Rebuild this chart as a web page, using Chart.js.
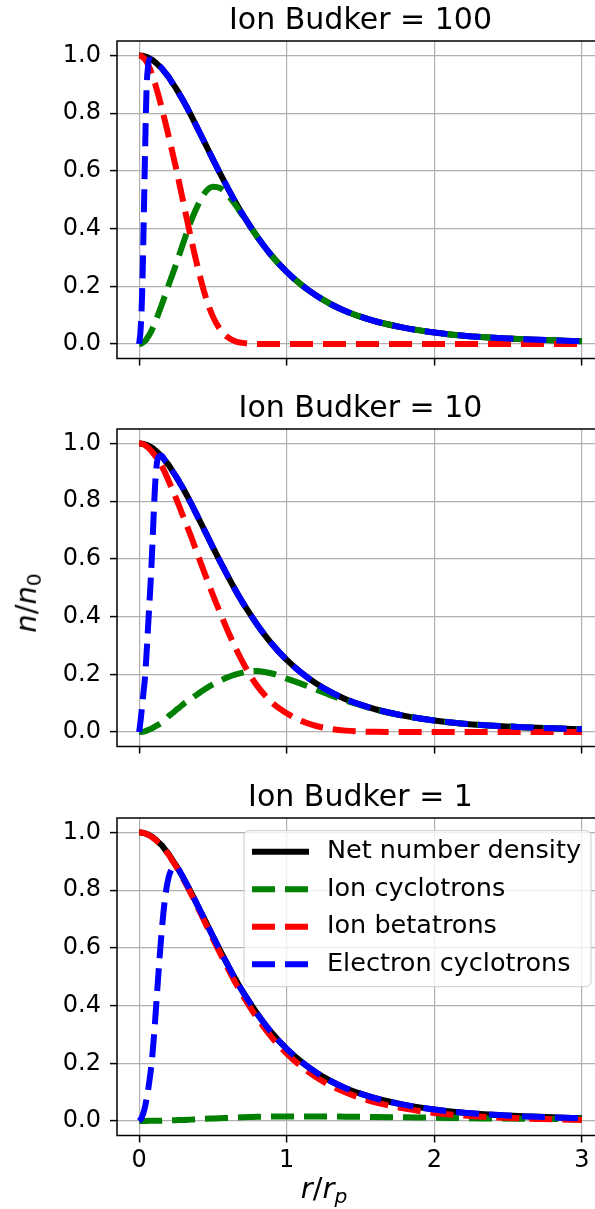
<!DOCTYPE html>
<html lang="en">
<head>
  <meta charset="UTF-8" />
  <title>Ion Budker density profiles</title>
  <script src="https://cdn.jsdelivr.net/npm/chart.js"></script>
  <style>
    * {
      margin: 0;
      padding: 0;
      box-sizing: border-box;
    }

    html, body {
      width: 595px;
      height: 1209px;
      overflow: hidden;
      background: #fff;
      font-family: 'DejaVu Sans', sans-serif;
    }

    .panel {
      position: absolute;
      left: 0;
    }

    #p1 { top: 0; }
    #p2 { top: 388px; }
    #p3 { top: 777px; }

    .axlabel {
      position: absolute;
      font-size: 29px;
      color: #000;
      white-space: nowrap;
      line-height: 1;
    }

    .axlabel sub {
      font-size: 0.7em;
      vertical-align: -0.25em;
    }

    #xlab {
      left: 324px;
      top: 1190px;
      transform: translate(-50%, -50%);
    }

    #ylab {
      left: 28px;
      top: 603px;
      transform: translate(-50%, -50%) rotate(-90deg);
    }
  </style>
</head>

<body>
  <canvas id="p1" class="panel" width="620" height="388"></canvas>
  <canvas id="p2" class="panel" width="620" height="389"></canvas>
  <canvas id="p3" class="panel" width="620" height="432"></canvas>
  <div id="ylab" class="axlabel"><i>n</i>/<i>n</i><sub>0</sub></div>
  <div id="xlab" class="axlabel"><i>r</i>/<i>r</i><sub><i>p</i></sub></div>

  <script>
    // radius r/r_p
    const r = [0, 0.01, 0.02, 0.03, 0.04, 0.05, 0.06, 0.07, 0.08, 0.09, 0.1, 0.11, 0.125, 0.15, 0.175,
      0.2, 0.225, 0.25, 0.275, 0.3, 0.35, 0.4, 0.45, 0.5, 0.55, 0.6, 0.65, 0.7, 0.75, 0.8,
      0.9, 1.0, 1.1, 1.2, 1.3, 1.4, 1.5, 1.6, 1.8, 2.0, 2.2, 2.4, 2.6, 2.8, 3.0];

    // net number density (same in all three panels)
    const netDensity = [1.000, 1.000, 0.999, 0.998, 0.997, 0.995, 0.993, 0.990, 0.987, 0.984, 0.980, 0.976, 0.969, 0.957, 0.941,
      0.925, 0.905, 0.886, 0.864, 0.842, 0.794, 0.743, 0.692, 0.640, 0.590, 0.541, 0.494, 0.450, 0.410, 0.372,
      0.305, 0.250, 0.205, 0.168, 0.138, 0.114, 0.095, 0.079, 0.056, 0.040, 0.029, 0.022, 0.017, 0.013, 0.010];

    // Ion Budker = 100
    const cyc100 = [0, 0.001, 0.003, 0.007, 0.011, 0.017, 0.025, 0.033, 0.042, 0.053, 0.065, 0.077, 0.097, 0.132, 0.168,
      0.205, 0.240, 0.276, 0.314, 0.352, 0.424, 0.483, 0.527, 0.545, 0.540, 0.517, 0.484, 0.446, 0.409, 0.372,
      0.305, 0.250, 0.205, 0.168, 0.138, 0.114, 0.095, 0.079, 0.056, 0.040, 0.029, 0.022, 0.017, 0.013, 0.010];
    const beta100 = [1.000, 0.999, 0.996, 0.991, 0.986, 0.978, 0.968, 0.957, 0.945, 0.931, 0.915, 0.899, 0.872, 0.825, 0.773,
      0.720, 0.665, 0.610, 0.550, 0.490, 0.370, 0.260, 0.165, 0.095, 0.050, 0.024, 0.010, 0.004, 0.001, 0,
      0, 0, 0, 0, 0, 0, 0, 0, 0, 0, 0, 0, 0, 0, 0];
    const elec100 = [0, 0.05, 0.17, 0.40, 0.66, 0.88, 0.96, 0.985, 0.985, 0.983, 0.980, 0.976, 0.969, 0.957, 0.941,
      0.925, 0.905, 0.886, 0.864, 0.842, 0.794, 0.743, 0.692, 0.640, 0.590, 0.541, 0.494, 0.450, 0.410, 0.372,
      0.305, 0.250, 0.205, 0.168, 0.138, 0.114, 0.095, 0.079, 0.056, 0.040, 0.029, 0.022, 0.017, 0.013, 0.010];

    // Ion Budker = 10
    const cyc10 = [0, 0, 0.001, 0.001, 0.003, 0.005, 0.007, 0.009, 0.011, 0.014, 0.017, 0.020, 0.024, 0.032, 0.042,
      0.055, 0.065, 0.076, 0.086, 0.097, 0.114, 0.133, 0.150, 0.165, 0.178, 0.190, 0.199, 0.206, 0.211, 0.212,
      0.203, 0.185, 0.167, 0.147, 0.127, 0.109, 0.093, 0.078, 0.056, 0.040, 0.029, 0.022, 0.017, 0.013, 0.010];
    const beta10 = [1.000, 1.000, 0.998, 0.997, 0.994, 0.990, 0.986, 0.981, 0.976, 0.970, 0.963, 0.956, 0.945, 0.925, 0.899,
      0.870, 0.840, 0.810, 0.778, 0.745, 0.680, 0.610, 0.542, 0.475, 0.412, 0.351, 0.295, 0.244, 0.199, 0.160,
      0.102, 0.065, 0.038, 0.021, 0.011, 0.005, 0.002, 0.001, 0, 0, 0, 0, 0, 0, 0];
    const elec10 = [0, 0.04, 0.09, 0.14, 0.19, 0.27, 0.36, 0.45, 0.54, 0.65, 0.77, 0.87, 0.945, 0.957, 0.941,
      0.925, 0.905, 0.886, 0.864, 0.842, 0.794, 0.743, 0.692, 0.640, 0.590, 0.541, 0.494, 0.450, 0.410, 0.372,
      0.305, 0.250, 0.205, 0.168, 0.138, 0.114, 0.095, 0.079, 0.056, 0.040, 0.029, 0.022, 0.017, 0.013, 0.010];

    // Ion Budker = 1
    const cyc1 = [0, 0, 0, 0, 0, 0, 0.001, 0.001, 0.001, 0.001, 0.001, 0.001, 0.001, 0.001, 0.002,
      0.002, 0.003, 0.003, 0.004, 0.004, 0.005, 0.006, 0.008, 0.009, 0.010, 0.011, 0.012, 0.013, 0.014, 0.015,
      0.016, 0.016, 0.016, 0.016, 0.016, 0.015, 0.015, 0.014, 0.013, 0.012, 0.010, 0.009, 0.008, 0.007, 0.006];
    const beta1 = [1.000, 1.000, 0.999, 0.998, 0.997, 0.995, 0.992, 0.989, 0.986, 0.983, 0.979, 0.975, 0.968, 0.956, 0.939,
      0.923, 0.902, 0.883, 0.860, 0.838, 0.789, 0.737, 0.684, 0.631, 0.580, 0.530, 0.482, 0.437, 0.396, 0.357,
      0.289, 0.234, 0.189, 0.152, 0.122, 0.099, 0.080, 0.065, 0.043, 0.028, 0.019, 0.013, 0.009, 0.006, 0.004];
    const elec1 = [0, 0.005, 0.015, 0.030, 0.050, 0.075, 0.105, 0.140, 0.180, 0.230, 0.290, 0.360, 0.470, 0.640, 0.770,
      0.845, 0.876, 0.883, 0.866, 0.842, 0.794, 0.743, 0.692, 0.640, 0.590, 0.541, 0.494, 0.450, 0.410, 0.372,
      0.305, 0.250, 0.205, 0.168, 0.138, 0.114, 0.095, 0.079, 0.056, 0.040, 0.029, 0.022, 0.017, 0.013, 0.010];

    const xTicks = [0, 1, 2, 3];
    const yTicks = [0, 0.2, 0.4, 0.6, 0.8, 1.0];
    const seriesNames = ['Net number density', 'Ion cyclotrons', 'Ion betatrons', 'Electron cyclotrons'];
    const seriesColors = ['#000000', '#008000', '#ff0000', '#0000ff'];

    const FONT = "'DejaVu Sans', sans-serif";
    const AREA_H = 317.5;
    const AREA_TOP = 41;

    function points(vals) {
      return r.map((x, i) => ({ x: x, y: vals[i] }));
    }

    // title centred over the plot area
    const panelTitle = {
      id: 'panelTitle',
      afterDraw(chart, args, opts) {
        const { ctx, chartArea } = chart;
        ctx.save();
        ctx.font = '30px ' + FONT;
        ctx.fillStyle = '#000';
        ctx.textAlign = 'center';
        ctx.textBaseline = 'alphabetic';
        ctx.fillText(opts.text, (chartArea.left + chartArea.right) / 2, chartArea.top - 12.5);
        ctx.restore();
      }
    };

    // spines on all four sides
    const frame = {
      id: 'frame',
      afterDatasetsDraw(chart) {
        const { ctx, chartArea } = chart;
        ctx.save();
        ctx.strokeStyle = '#000';
        ctx.lineWidth = 1.5;
        ctx.strokeRect(chartArea.left, chartArea.top, chartArea.right - chartArea.left, chartArea.bottom - chartArea.top);
        ctx.restore();
      }
    };

    // matplotlib style legend inside the axes
    const insetLegend = {
      id: 'insetLegend',
      afterDraw(chart, args, opts) {
        if (!opts.show) return;
        const ctx = chart.ctx;
        const left = 244, width = 347, height = 156;
        const top = chart.chartArea.top + 12.7;
        ctx.save();
        ctx.beginPath();
        ctx.roundRect(left, top, width, height, 5);
        ctx.fillStyle = 'rgba(255,255,255,0.8)';
        ctx.fill();
        ctx.strokeStyle = '#cccccc';
        ctx.lineWidth = 1;
        ctx.stroke();
        chart.data.datasets.forEach((ds, i) => {
          const y = top + 21 + i * 37.5;
          ctx.beginPath();
          ctx.setLineDash(ds.borderDash || []);
          ctx.lineWidth = ds.borderWidth;
          ctx.strokeStyle = ds.borderColor;
          ctx.moveTo(252, y);
          ctx.lineTo(309, y);
          ctx.stroke();
          ctx.setLineDash([]);
          ctx.font = '25.5px ' + FONT;
          ctx.fillStyle = '#000';
          ctx.textAlign = 'left';
          ctx.textBaseline = 'middle';
          ctx.fillText(ds.label, 327, y);
        });
        ctx.restore();
      }
    };

    function makePanel(id, title, cyc, beta, elec, showX, showLegend) {
      const canvas = document.getElementById(id);
      const xAxisH = canvas.height - AREA_TOP - AREA_H;
      const series = [netDensity, cyc, beta, elec];
      const datasets = series.map((vals, i) => ({
        label: seriesNames[i],
        data: points(vals),
        borderColor: seriesColors[i],
        backgroundColor: seriesColors[i],
        borderWidth: 6,
        borderDash: i === 0 ? [] : [23, 10],
        pointRadius: 0,
        cubicInterpolationMode: 'monotone',
        order: 4 - i
      }));

      return new Chart(canvas.getContext('2d'), {
        type: 'line',
        data: { datasets: datasets },
        options: {
          responsive: false,
          animation: false,
          layout: { padding: { top: AREA_TOP, left: 0, right: 16, bottom: 0 } },
          plugins: {
            legend: { display: false },
            tooltip: { enabled: false },
            panelTitle: { text: title },
            insetLegend: { show: showLegend }
          },
          scales: {
            x: {
              type: 'linear',
              min: -0.15,
              max: 3.15,
              afterBuildTicks: (s) => { s.ticks = xTicks.map(v => ({ value: v })); },
              afterFit: (s) => { s.height = xAxisH; },
              ticks: {
                display: showX,
                color: '#000',
                font: { family: FONT, size: 24 },
                padding: 4,
                maxRotation: 0,
                autoSkip: false,
                callback: (v) => String(v)
              },
              grid: { color: '#b0b0b0', lineWidth: 1.2, tickLength: 7, tickColor: '#000', tickWidth: 1.5 },
              border: { display: false }
            },
            y: {
              min: -0.05,
              max: 1.05,
              afterBuildTicks: (s) => { s.ticks = yTicks.map(v => ({ value: v })); },
              afterFit: (s) => { s.width = 117; },
              ticks: {
                color: '#000',
                font: { family: FONT, size: 24 },
                padding: 9,
                callback: (v) => v.toFixed(1)
              },
              grid: { color: '#b0b0b0', lineWidth: 1.2, tickLength: 7, tickColor: '#000', tickWidth: 1.5 },
              border: { display: false }
            }
          }
        },
        plugins: [panelTitle, frame, insetLegend]
      });
    }

    makePanel('p1', 'Ion Budker = 100', cyc100, beta100, elec100, false, false);
    makePanel('p2', 'Ion Budker = 10', cyc10, beta10, elec10, false, false);
    makePanel('p3', 'Ion Budker = 1', cyc1, beta1, elec1, true, true);
  </script>
</body>
</html>
